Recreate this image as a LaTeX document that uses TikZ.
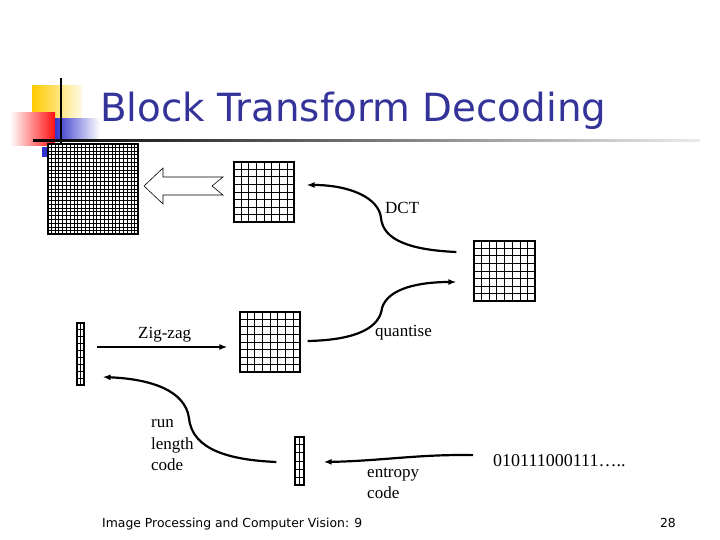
\documentclass[tikz,border=0pt]{standalone}
\usepackage{fontspec}
\setmainfont{Liberation Serif}
\newfontfamily\folienfont{DejaVu Sans}
\usetikzlibrary{arrows.meta,calc}
\definecolor{titel}{HTML}{333399}
\definecolor{gelb}{HTML}{FFCC00}
\definecolor{rot}{HTML}{FF1010}
\definecolor{blau}{HTML}{3333CC}
\tikzset{
  bogen/.style={-{Latex[length=8pt,width=6pt]},black,line width=2.2pt},
  gitter/.style={black,line width=0.9pt},
  raster/.style={draw=black,line width=1.2pt,inner sep=0pt,fill=white},
  beschr/.style={font=\fontsize{17}{21.5}\selectfont,inner sep=0pt,align=left,anchor=base west},
  fuss/.style={font=\folienfont\fontsize{12.4}{15}\selectfont,inner sep=0pt,anchor=base west},
}
% grid lines inside a node: name, columns, rows
\newcommand{\rasterlinien}[3]{%
  \pgfmathtruncatemacro{\rasX}{#2-1}%
  \pgfmathtruncatemacro{\rasY}{#3-1}%
  \foreach \i in {1,...,\rasX}
    \draw[gitter] ($(#1.south west)!\i/#2!(#1.south east)$) -- ($(#1.north west)!\i/#2!(#1.north east)$);
  \foreach \j in {1,...,\rasY}
    \draw[gitter] ($(#1.south west)!\j/#3!(#1.north west)$) -- ($(#1.south east)!\j/#3!(#1.north east)$);
}

\begin{document}
\begin{tikzpicture}[x=1pt,y=1pt]
  \useasboundingbox (0,0) rectangle (720,540);
  % slide decoration
  \shade[left color=gelb,right color=gelb!10] (32,400) rectangle (82,454);
  \shade[left color=white,right color=rot] (10,394) rectangle (55,427);
  \shade[left color=blau,right color=white] (55,400) rectangle (100,421);
  \fill[blau] (42,383) rectangle (48,393);
  \draw[line width=2pt] (61,397) -- (61,462);
  \shade[left color=black,right color=gray!15] (33,398) rectangle (700,400.5);
  \node[font=\folienfont\fontsize{38.8}{44}\selectfont,text=titel,anchor=base west,inner sep=0pt] (titel) at (100,418) {Block Transform Decoding};

  % blocks
  \node[raster,minimum width=90pt,minimum height=90pt] (bild) at (93,351) {};
  \node[raster,minimum width=60pt,minimum height=60pt] (koeffA) at (264,348) {};
  \node[raster,minimum width=61pt,minimum height=60pt] (koeffB) at (504.5,269) {};
  \node[raster,minimum width=60pt,minimum height=60pt] (koeffC) at (270,198) {};
  \node[raster,minimum width=7pt,minimum height=62pt] (spalteA) at (80.5,186) {};
  \node[raster,minimum width=9pt,minimum height=48pt] (spalteB) at (299.5,79) {};
  \rasterlinien{bild}{24}{24}
  \rasterlinien{koeffA}{8}{8}
  \rasterlinien{koeffB}{8}{8}
  \rasterlinien{koeffC}{8}{8}
  \rasterlinien{spalteA}{2}{9}
  \rasterlinien{spalteB}{2}{6}

  % hollow arrow
  \draw[line width=0.6pt,fill=white] (144,354) -- (163,372) -- (163,363) -- (223,363) -- (212,354)
    -- (223,345) -- (163,345) -- (163,336) -- cycle;

  % labels
  \node[beschr] (dct) at (385,326) {DCT};
  \node[beschr] (quant) at (375,203) {quantise};
  \node[beschr] (zigzag) at (138,201) {Zig-zag};
  \node[beschr] (rlc) at (151,69) {run\\length\\code};
  \node[beschr] (entropie) at (367,41) {entropy\\code};
  \node[beschr,font=\fontsize{18}{21}\selectfont] (bits) at (493,73) {010111000111…..};
  \node[fuss] (fusstext) at (102,12) {Image Processing and Computer Vision: 9};
  \node[fuss,anchor=base east] (seite) at (676,12) {28};

  % connectors
  \draw[bogen] ([shift={(-17,19)}]koeffB.west) .. controls (410,290) and (383,300) .. (381,322)
    .. controls (379,342) and (350,355) .. ([shift={(12,7)}]koeffA.east);
  \draw[bogen] ([shift={(7,1)}]koeffC.east) .. controls (360,200) and (380,214) .. (382,232)
    .. controls (388,252) and (420,258) .. ([shift={(-17,-11)}]koeffB.west);
  \draw[bogen] ([shift={(12,7)}]spalteA.east) -- ([shift={(-12,-5)}]koeffC.west);
  \draw[bogen] ([shift={(-18,-1)}]spalteB.west) .. controls (230,80) and (192,90) .. (189,122)
    .. controls (185,150) and (150,161) .. ([shift={(18,-23)}]spalteA.east);
  \draw[bogen] ([shift={(-20,6)}]bits.west) .. controls (420,86) and (380,79) .. ([shift={(19,-1)}]spalteB.east);
\end{tikzpicture}
\end{document}
